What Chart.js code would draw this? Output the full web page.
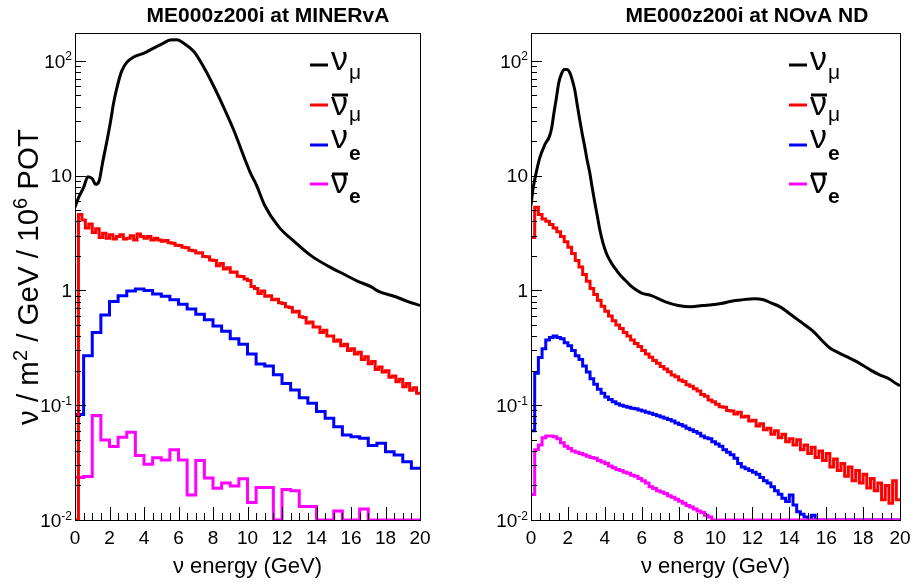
<!DOCTYPE html>
<html><head><meta charset="utf-8">
<script src="https://cdn.jsdelivr.net/npm/chart.js@4.4.1/dist/chart.umd.min.js"></script>
<style>
html,body{margin:0;padding:0;background:#fff;}
#wrap{position:relative;width:915px;height:587px;overflow:hidden;}
canvas{position:absolute;left:0;top:0;}
</style></head><body>
<div id="wrap"><canvas id="c1" width="915" height="587" style="width:915px;height:587px"></canvas><canvas id="c2" width="915" height="587" style="width:915px;height:587px"></canvas></div>
<script>
// ---------------- data ----------------
const panelTitles = ['ME000z200i at MINERvA', 'ME000z200i at NOvA ND'];
const xAxisTitle = 'ν energy (GeV)';
const xTickValues = [0, 2, 4, 6, 8, 10, 12, 14, 16, 18, 20];
const xTickLabels = ['0', '2', '4', '6', '8', '10', '12', '14', '16', '18', '20'];
const xMinorStep = 0.5;
const yTickValues = [0.01, 0.1, 1, 10, 100];
const yTickBase = ['10', '10', '1', '10', '10'];
const yTickExp = ['-2', '-1', '', '', '2'];
const seriesNames = ['νμ', 'ν̄μ', 'νe', 'ν̄e'];

// nu_mu (black), smooth curves read as points
const minervaNumuE = [0, 0.2, 0.5, 0.75, 1.0, 1.2, 1.4, 1.6, 1.85, 2.05, 2.25, 2.45, 2.7, 3.0, 3.4, 4.0, 4.5, 5.1, 5.5, 5.9, 6.3, 6.9, 7.45, 8.0, 8.6, 9.2, 9.8, 10.2, 10.5, 11.0, 11.8, 12.8, 13.7, 14.7, 15.65, 16.4, 17.2, 17.6, 18.5, 19.3, 20];
const minervaNumu  = [5.3, 6.4, 7.9, 9.8, 9.4, 8.4, 9.0, 13.0, 20, 29, 44, 60, 81, 97, 108, 117, 128, 142, 152, 153, 143, 120, 89, 62, 40, 25, 14.5, 10.3, 8.4, 5.5, 3.6, 2.6, 2.0, 1.62, 1.37, 1.2, 1.07, 0.98, 0.89, 0.8, 0.74];
const novaNumuE = [0, 0.1, 0.2, 0.47, 0.74, 1.0, 1.12, 1.24, 1.38, 1.5, 1.65, 1.8, 1.95, 2.1, 2.25, 2.37, 2.5, 2.64, 2.78, 2.91, 3.05, 3.19, 3.32, 3.46, 3.6, 3.73, 3.9, 4.09, 4.3, 4.54, 4.8, 5.08, 5.35, 5.63, 6.0, 6.53, 7.25, 7.98, 8.7, 9.3, 9.8, 10.3, 10.8, 11.2, 11.7, 12.1, 12.6, 13.0, 13.5, 13.9, 14.4, 14.85, 15.3, 15.75, 16.2, 16.6, 17.1, 17.55, 18.0, 18.45, 18.9, 19.4, 19.83, 20];
const novaNumu  = [5.5, 7.5, 9.2, 14.2, 18.5, 22, 26, 35, 48, 64, 77, 84, 84, 79, 67, 56, 42, 30.7, 23, 17.9, 13.5, 10.5, 7.8, 5.8, 4.4, 3.38, 2.6, 2.1, 1.8, 1.57, 1.38, 1.24, 1.12, 1.03, 0.95, 0.9, 0.8, 0.74, 0.72, 0.74, 0.75, 0.77, 0.8, 0.82, 0.84, 0.845, 0.83, 0.78, 0.72, 0.65, 0.565, 0.5, 0.44, 0.37, 0.315, 0.29, 0.265, 0.245, 0.222, 0.2, 0.184, 0.17, 0.153, 0.148];

// anti nu_mu (red), 0.2 GeV bins
const numubarBinWidth = 0.2;
const minervaNumubar = [0.01, 4.6, 4.1, 3.5, 3.8, 3.2, 3.45, 2.9, 3.15, 2.85,
  3.05, 2.8, 2.95, 3.05, 2.8, 2.85, 3.0, 2.75, 3.1, 2.95,
  2.85, 2.95, 2.75, 2.85, 2.75, 2.68, 2.72, 2.6, 2.58, 2.48,
  2.47, 2.38, 2.36, 2.24, 2.22, 2.12, 2.13, 1.98, 1.97, 1.84,
  1.82, 1.64, 1.72, 1.54, 1.58, 1.44, 1.45, 1.33, 1.32, 1.26,
  1.22, 1.08, 1.04, 0.94, 0.99, 0.89, 0.9, 0.83, 0.84, 0.78,
  0.77, 0.72, 0.71, 0.65, 0.66, 0.59, 0.58, 0.52, 0.53, 0.48,
  0.48, 0.43, 0.45, 0.4, 0.4, 0.36, 0.37, 0.33, 0.34, 0.3,
  0.31, 0.28, 0.29, 0.25, 0.265, 0.23, 0.24, 0.205, 0.215, 0.195,
  0.2, 0.175, 0.18, 0.16, 0.168, 0.145, 0.155, 0.135, 0.142, 0.127];
const novaNumubar = [2.9, 5.3, 4.6, 4.2, 4.0, 3.75, 3.5, 3.25, 2.95, 2.65,
  2.38, 2.1, 1.82, 1.6, 1.38, 1.2, 1.04, 0.92, 0.82, 0.73,
  0.66, 0.6, 0.545, 0.5, 0.465, 0.43, 0.4, 0.37, 0.345, 0.325,
  0.3, 0.28, 0.262, 0.245, 0.232, 0.218, 0.207, 0.196, 0.183, 0.177,
  0.166, 0.161, 0.151, 0.146, 0.139, 0.133, 0.124, 0.12, 0.111, 0.107,
  0.102, 0.097, 0.096, 0.09, 0.089, 0.084, 0.087, 0.079, 0.08, 0.073,
  0.074, 0.066, 0.069, 0.061, 0.063, 0.056, 0.06, 0.052, 0.056, 0.048,
  0.051, 0.045, 0.05, 0.041, 0.045, 0.038, 0.043, 0.035, 0.04, 0.033,
  0.038, 0.029, 0.034, 0.027, 0.031, 0.024, 0.029, 0.022, 0.027, 0.021,
  0.025, 0.019, 0.023, 0.018, 0.021, 0.015, 0.02, 0.014, 0.022, 0.015];

// nu_e (blue) and anti nu_e (magenta)
const minervaNueBinWidth = 0.5;
const minervaNue = [0.083, 0.27, 0.43, 0.61, 0.80, 0.90, 0.99, 1.03, 1.0, 0.93,
  0.89, 0.83, 0.76, 0.69, 0.62, 0.555, 0.49, 0.44, 0.38, 0.34,
  0.28, 0.229, 0.22, 0.184, 0.155, 0.136, 0.116, 0.104, 0.088, 0.077,
  0.065, 0.055, 0.053, 0.0516, 0.0445, 0.0466, 0.0394, 0.0369, 0.0322, 0.0282];
const minervaNuebar = [0.0234, 0.0239, 0.0812, 0.0498, 0.0436, 0.0526, 0.0582, 0.0364, 0.0306, 0.0349,
  0.0334, 0.041, 0.0334, 0.0165, 0.033, 0.0232, 0.0189, 0.021, 0.0198, 0.0229,
  0.0142, 0.0192, 0.0192, 0.01, 0.0184, 0.018, 0.0131, 0.0131, 0.01, 0.01,
  0.012, 0.01, 0.01, 0.0125, 0.01, 0.01, 0.01, 0.01, 0.01, 0.01];
const novaNueBinWidth = 0.2;
const novaNue = [0.06, 0.19, 0.26, 0.31, 0.37, 0.39, 0.40, 0.39, 0.38, 0.35,
  0.33, 0.30, 0.27, 0.25, 0.22, 0.195, 0.17, 0.152, 0.138, 0.127,
  0.118, 0.112, 0.107, 0.103, 0.1, 0.098, 0.096, 0.094, 0.093, 0.091,
  0.089, 0.087, 0.085, 0.083, 0.081, 0.079, 0.077, 0.075, 0.073, 0.07,
  0.068, 0.066, 0.063, 0.061, 0.059, 0.057, 0.054, 0.052, 0.051, 0.048,
  0.046, 0.044, 0.041, 0.039, 0.037, 0.0345, 0.031, 0.029, 0.028, 0.027,
  0.026, 0.025, 0.0235, 0.022, 0.021, 0.0195, 0.018, 0.0168, 0.0155, 0.0145,
  0.0165, 0.0135, 0.0118, 0.0112, 0.0106, 0.01, 0.011, 0.01, 0.01, 0.01,
  0.01, 0.01, 0.01, 0.01, 0.01, 0.01, 0.01, 0.01, 0.01, 0.01,
  0.01, 0.01, 0.01, 0.01, 0.01, 0.01, 0.01, 0.01, 0.01, 0.01];
const novaNuebar = [0.0167, 0.041, 0.045, 0.052, 0.054, 0.054, 0.053, 0.051, 0.047, 0.044,
  0.042, 0.04, 0.039, 0.038, 0.037, 0.036, 0.035, 0.0345, 0.033, 0.032,
  0.031, 0.0295, 0.0285, 0.0275, 0.027, 0.026, 0.0255, 0.0245, 0.024, 0.023,
  0.022, 0.021, 0.0195, 0.0188, 0.018, 0.0175, 0.017, 0.0163, 0.0158, 0.0152,
  0.0146, 0.014, 0.0134, 0.013, 0.0125, 0.012, 0.0116, 0.011, 0.0106, 0.01,
  0.01, 0.01, 0.01, 0.01, 0.01, 0.01, 0.01, 0.01, 0.01, 0.01,
  0.01, 0.01, 0.01, 0.01, 0.01, 0.01, 0.01, 0.01, 0.01, 0.01,
  0.01, 0.01, 0.01, 0.01, 0.01, 0.01, 0.01, 0.01, 0.01, 0.01,
  0.01, 0.01, 0.01, 0.01, 0.01, 0.01, 0.01, 0.01, 0.01, 0.01,
  0.01, 0.01, 0.01, 0.01, 0.01, 0.01, 0.01, 0.01, 0.01, 0.01];

// ---------------- helpers ----------------
const FF = '"Liberation Sans", Arial, Helvetica, sans-serif';
const X_MIN = 0, X_MAX = 20, Y_MIN = 0.01, Y_MAX = 175;
const COLORS = ['#000000', '#ff0000', '#0000ff', '#ff00ff'];

function curve(xs, ys) { return xs.map((x, i) => ({ x: x, y: ys[i] })); }
function hist(vals, w) {
  const pts = vals.map((v, i) => ({ x: i * w, y: v }));
  pts.push({ x: vals.length * w, y: vals[vals.length - 1] });
  return pts;
}

function drawSuperText(ctx, parts, x, baseline, mainFont, supFont, supRaise) {
  let cx = x;
  for (const p of parts) {
    ctx.font = p.sup ? supFont : mainFont;
    ctx.fillText(p.t, cx, p.sup ? baseline - supRaise : baseline);
    cx += ctx.measureText(p.t).width;
  }
  return cx;
}
function measureSuperText(ctx, parts, mainFont, supFont) {
  let w = 0;
  for (const p of parts) { ctx.font = p.sup ? supFont : mainFont; w += ctx.measureText(p.t).width; }
  return w;
}

function drawFrameAndTicks(chart) {
  const ctx = chart.ctx, a = chart.chartArea;
  const xs = chart.scales.x, ys = chart.scales.y;
  const L = Math.round(a.left), R = Math.round(a.right), T = Math.round(a.top), B = Math.round(a.bottom);
  ctx.save();
  ctx.fillStyle = '#000000';
  // frame as filled 1px rects
  ctx.fillRect(L, T, R - L + 1, 1);
  ctx.fillRect(L, B, R - L + 1, 1);
  ctx.fillRect(L, T, 1, B - T + 1);
  ctx.fillRect(R, T, 1, B - T + 1);
  // x ticks (major every 2, minor every 0.5)
  const nMinor = Math.round((X_MAX - X_MIN) / xMinorStep);
  for (let k = 0; k <= nMinor; k++) {
    const v = X_MIN + k * xMinorStep;
    const px = Math.round(xs.getPixelForValue(v));
    const isMajor = xTickValues.indexOf(v) >= 0;
    const len = isMajor ? 13 : 7;
    ctx.fillRect(Math.min(px, R), B - len, 1, len);
  }
  // y ticks (decades + 2..9 minor)
  for (let i = 0; i < yTickValues.length; i++) {
    for (let m = 1; m <= 9; m++) {
      const v = yTickValues[i] * m;
      if (v > Y_MAX) break;
      const py = Math.round(ys.getPixelForValue(v));
      const len = (m === 1) ? 11 : 6;
      ctx.fillRect(L, Math.min(py, B), len, 1);
    }
  }
  ctx.restore();
}

const panelPlugin = {
  id: 'panel',
  afterDraw(chart, args, o) {
    drawFrameAndTicks(chart);
    const ctx = chart.ctx, a = chart.chartArea;
    const xs = chart.scales.x, ys = chart.scales.y;
    ctx.save();
    ctx.fillStyle = '#000';
    ctx.textBaseline = 'alphabetic';
    // x tick labels
    ctx.font = '19px ' + FF; ctx.textAlign = 'center';
    xTickValues.forEach((v, i) => ctx.fillText(xTickLabels[i], xs.getPixelForValue(v), a.bottom + 24));
    // y tick labels
    ctx.textAlign = 'left';
    yTickValues.forEach((v, i) => {
      const py = ys.getPixelForValue(v);
      ctx.font = '19px ' + FF; const bw = ctx.measureText(yTickBase[i]).width;
      ctx.font = '12px ' + FF; const ew = yTickExp[i] ? ctx.measureText(yTickExp[i]).width : 0;
      const x0 = a.left - 3 - bw - ew;
      ctx.font = '19px ' + FF; ctx.fillText(yTickBase[i], x0, py + 6.8);
      if (yTickExp[i]) { ctx.font = '12px ' + FF; ctx.fillText(yTickExp[i], x0 + bw, py - 0.5); }
    });
    // x axis title
    ctx.font = '22px ' + FF; ctx.textAlign = 'center';
    ctx.fillText(xAxisTitle, (a.left + a.right) / 2, 573);
    // panel title
    ctx.font = 'bold 21px ' + FF;
    ctx.fillText(o.title, o.titleX, 22);
    // y axis title
    if (o.yTitle) {
      const parts = [{ t: 'ν / m' }, { t: '2', sup: true }, { t: ' / GeV / 10' }, { t: '6', sup: true }, { t: ' POT' }];
      const mf = '29.5px ' + FF, sf = '20px ' + FF;
      ctx.save();
      ctx.translate(38, 277);
      ctx.rotate(-Math.PI / 2);
      ctx.textAlign = 'left';
      const w = measureSuperText(ctx, parts, mf, sf);
      drawSuperText(ctx, parts, -w / 2, 0, mf, sf, 11.5);
      ctx.restore();
    }
    // legend
    const lx = o.legendX;
    const lineY = [65, 105, 145, 184], nuBase = [70, 115, 148, 193], subBase = [79, 121, 160, 203], barY = [0, 95, 0, 174];
    const subs = ['μ', 'μ', 'e', 'e'], anti = [false, true, false, true];
    ctx.textAlign = 'left';
    for (let i = 0; i < 4; i++) {
      ctx.fillStyle = COLORS[i];
      ctx.fillRect(lx, lineY[i] - 1.5, 18, 3);
      ctx.fillStyle = '#000';
      ctx.font = '34px ' + FF;
      const nx = lx + 21;
      ctx.fillText('ν', nx, nuBase[i]);
      const nw = ctx.measureText('ν').width;
      if (anti[i]) ctx.fillRect(nx + 1, barY[i] - 1.5, nw - 1, 3);
      ctx.font = (subs[i] === 'e' ? 'bold ' : '') + '21px ' + FF;
      ctx.fillText(subs[i], nx + nw + 1, subBase[i]);
    }
    ctx.restore();
  }
};

function makeChart(id, pad, sets, panelOpts) {
  return new Chart(document.getElementById(id), {
    type: 'line',
    data: { datasets: sets },
    options: {
      responsive: false, animation: false, devicePixelRatio: 1, events: [],
      layout: { padding: pad },
      scales: {
        x: { type: 'linear', min: X_MIN, max: X_MAX, display: false },
        y: { type: 'logarithmic', min: Y_MIN, max: Y_MAX, display: false }
      },
      plugins: { legend: { display: false }, tooltip: { enabled: false }, panel: panelOpts }
    },
    plugins: [panelPlugin]
  });
}

function ds(name, data, color, order, smooth) {
  const d = { label: name, data: data, borderColor: color, backgroundColor: color, borderWidth: 3,
    pointRadius: 0, fill: false, order: order, borderJoinStyle: 'miter', borderCapStyle: 'butt' };
  if (smooth) { d.cubicInterpolationMode = 'monotone'; d.borderJoinStyle = 'round'; }
  else { d.stepped = 'before'; }
  return d;
}

makeChart('c1', { left: 75, right: 495, top: 33, bottom: 67 }, [
  ds(seriesNames[0], curve(minervaNumuE, minervaNumu), COLORS[0], 3, true),
  ds(seriesNames[1], hist(minervaNumubar, numubarBinWidth), COLORS[1], 0, false),
  ds(seriesNames[2], hist(minervaNue, minervaNueBinWidth), COLORS[2], 2, false),
  ds(seriesNames[3], hist(minervaNuebar, minervaNueBinWidth), COLORS[3], 1, false)
], { title: panelTitles[0], titleX: 268, legendX: 310, yTitle: true });

makeChart('c2', { left: 531, right: 15, top: 33, bottom: 67 }, [
  ds(seriesNames[0], curve(novaNumuE, novaNumu), COLORS[0], 3, true),
  ds(seriesNames[1], hist(novaNumubar, numubarBinWidth), COLORS[1], 0, false),
  ds(seriesNames[2], hist(novaNue, novaNueBinWidth), COLORS[2], 2, false),
  ds(seriesNames[3], hist(novaNuebar, novaNueBinWidth), COLORS[3], 1, false)
], { title: panelTitles[1], titleX: 747, legendX: 789, yTitle: false });
</script>
</body></html>
